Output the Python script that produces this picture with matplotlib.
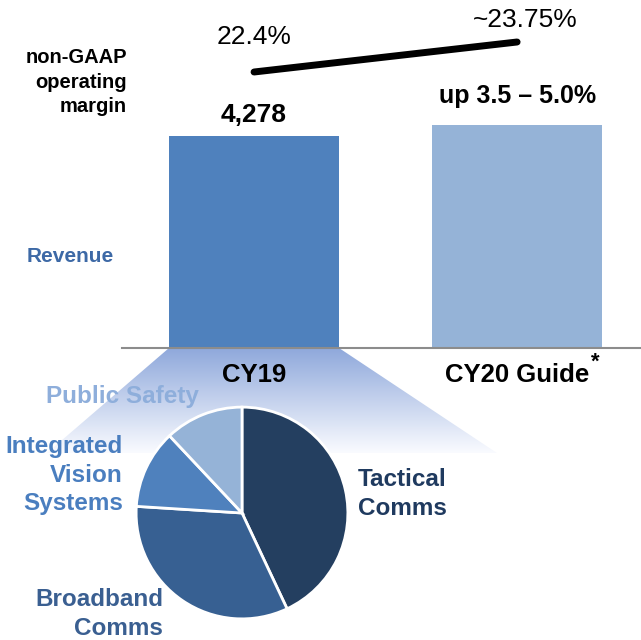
import matplotlib.pyplot as plt
import numpy as np
from matplotlib.patches import Polygon

plt.rcParams['font.family'] = ['Liberation Sans', 'DejaVu Sans']

years = ["CY19", "CY20 Guide"]
revenue = [4278, 4490]
revenue_labels = ["4,278", "up 3.5 – 5.0%"]
margin = [22.4, 23.75]
margin_labels = ["22.4%", "~23.75%"]
segments = ["Tactical\nComms", "Broadband\nComms", "Integrated\nVision\nSystems", "Public Safety"]
segment_share = [43, 33, 12, 12]

bar_colors = ["#4f81bd", "#95b3d7"]
seg_colors = ["#243f60", "#376092", "#4f81bd", "#95b3d7"]
seg_text = ["#1f3a5f", "#3a5f91", "#4a7ebf", "#8eaedb"]

W, H = 641, 640


def fx(x):
    return x / W


def fy(y):
    return 1 - y / H


fig = plt.figure(figsize=(W / 100, H / 100), dpi=100)

# background fan (zoom from CY19 bar to the pie)
bg = fig.add_axes([0, 0, 1, 1], zorder=0)
fan = Polygon([(169, 348), (339, 348), (497, 453), (47, 453)], closed=True,
              facecolor='none', edgecolor='none')
bg.add_patch(fan)
grad = np.linspace(0, 1, 256)[:, None, None]
c_top = np.array([0.56, 0.66, 0.86])
c_bot = np.array([0.98, 0.985, 1.0])
img = c_top + (c_bot - c_top) * grad
im = bg.imshow(np.repeat(img, 4, axis=1), extent=(40, 500, 453, 348),
               aspect='auto', interpolation='bilinear')
im.set_clip_path(fan)
bg.set_xlim(0, W)
bg.set_ylim(H, 0)
bg.axis('off')

# revenue bars
ax = fig.add_axes([fx(122), fy(348), fx(641) - fx(122), fy(0) - fy(348)], zorder=1)
ax.patch.set_alpha(0)
x = np.arange(len(years))
ax.bar(x, revenue, width=0.646, color=bar_colors)
ax.set_xlim(-0.502, 1.471)
ax.set_ylim(0, 7022)
for s in ['top', 'right', 'left']:
    ax.spines[s].set_visible(False)
ax.spines['bottom'].set_color('#8c8c8c')
ax.spines['bottom'].set_linewidth(1.5)
ax.set_yticks([])
ax.set_xticks(x, years, fontsize=18.5, fontweight='bold')
ax.tick_params(axis='x', length=0, pad=11)
for xi, v, lab, off, fs in zip(x, revenue, revenue_labels, [10, 16], [19, 18]):
    ax.annotate(lab, (xi, v), xytext=(0, off), textcoords='offset points',
                ha='center', va='baseline', fontsize=fs, fontweight='bold')

# operating margin line
ax2 = ax.twinx()
ax2.set_ylim(9.98, 25.64)
ax2.axis('off')
ax2.plot(x, margin, color='black', lw=5, solid_capstyle='round')
for xi, m, lab, off in zip(x, margin, margin_labels, [(0, 25), (6, 16)]):
    ax2.annotate(lab, (xi, m), xytext=off, textcoords='offset points',
                 ha='center', va='center', fontsize=19)

fig.text(fx(595), fy(362), "*", fontsize=16, fontweight='bold', ha='center', va='center')
fig.text(fx(127), fy(82), "non-GAAP\noperating\nmargin", ha='right', va='center',
         fontsize=14.5, fontweight='bold', linespacing=1.35)
fig.text(fx(70), fy(256), "Revenue", ha='center', va='center', fontsize=15,
         fontweight='bold', color='#3d69a6')

# CY19 segment pie
pax = fig.add_axes([fx(134), fy(621), fx(350) - fx(134), fy(405) - fy(621)], zorder=2)
pax.pie(segment_share, colors=seg_colors, startangle=90, counterclock=False,
        wedgeprops=dict(edgecolor='white', linewidth=2))
pax.set_xlim(-1.02, 1.02)
pax.set_ylim(-1.02, 1.02)

lab_pos = [(358, 494, 'left'), (163, 614, 'right'), (123, 475, 'right'), (122, 396, 'center')]
for name, col, (lx, ly, ha) in zip(segments, seg_text, lab_pos):
    fig.text(fx(lx), fy(ly), name, ha=ha, va='center', fontsize=17.5,
             fontweight='bold', color=col, linespacing=1.3, zorder=3)

fig.savefig('out.png', dpi=100)
